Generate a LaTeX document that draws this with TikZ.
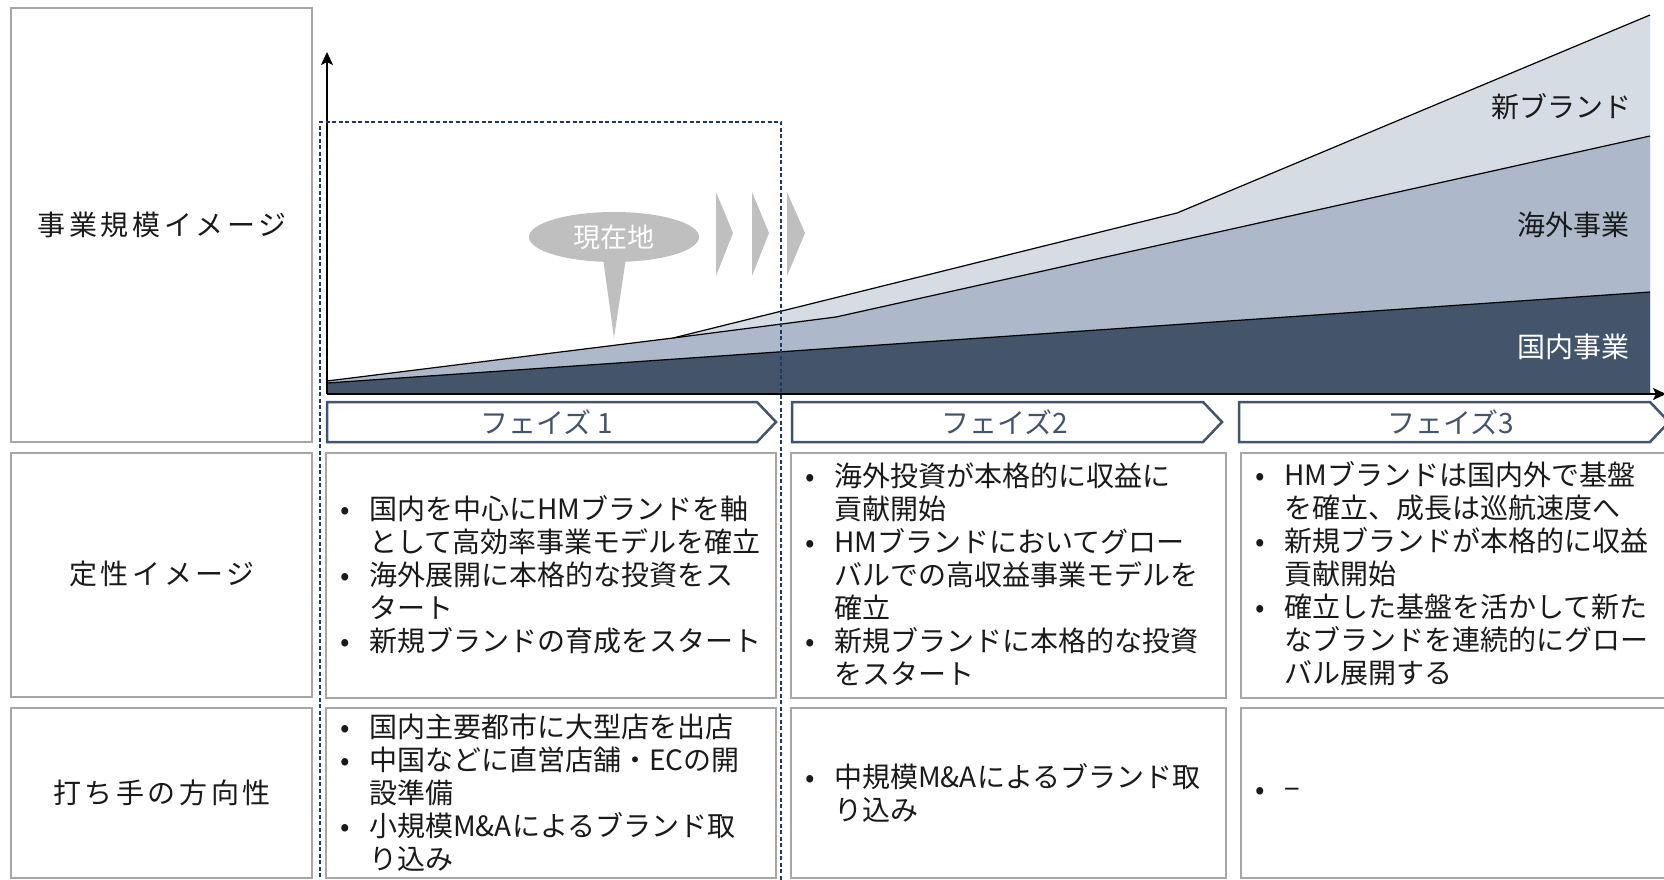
\documentclass[tikz,border=0pt]{standalone}
\usepackage{fontspec}
\setmainfont{Noto Sans CJK JP}
\usetikzlibrary{arrows.meta,shapes.geometric}
\definecolor{navy}{HTML}{44546A}
\definecolor{midblue}{HTML}{ADB9CA}
\definecolor{lightblue}{HTML}{D6DCE4}
\definecolor{boxgray}{HTML}{A6A6A6}
\definecolor{pingray}{HTML}{BFBFBF}
\definecolor{dashnavy}{HTML}{203864}
\definecolor{txt}{HTML}{1A1A1A}
\newcommand\bu{\makebox[48pt][c]{•}}
\newcommand\ii{\hspace*{48pt}}
\begin{document}
\begin{tikzpicture}[x=1pt,y=-1pt,
  cellbox/.style={draw=boxgray,line width=2pt},
  phasearrow/.style={draw=navy,line width=2.5pt,fill=white,line join=miter},
  body/.style={font=\fontsize{28}{33}\selectfont,text=txt,align=left,anchor=west,inner sep=0pt},
  rowlabel/.style={font=\fontsize{28}{33}\selectfont\addfontfeature{LetterSpace=13},text=txt,inner sep=0pt},
  phaselabel/.style={font=\fontsize{28}{33}\selectfont,text=navy,inner sep=0pt},
  serieslabel/.style={font=\fontsize{28}{33}\selectfont,inner sep=0pt,anchor=east},
  chartline/.style={draw=black,line width=1.2pt},
  axis/.style={draw=black,line width=1.8pt,-{Stealth[length=13pt,width=12pt,inset=3pt]}},
  chev/.style={fill=pingray,draw=none}
]
\useasboundingbox (0,0) rectangle (1664,880);
\clip (0,0) rectangle (1664,880);
\fill[white] (0,0) rectangle (1664,880);

% left column
\draw[cellbox] (11,8) rectangle (312,442);
\draw[cellbox] (11,453) rectangle (312,697);
\draw[cellbox] (11,708) rectangle (312,878);
\node[rowlabel] (l1) at (162,225) {事業規模イメージ};
\node[rowlabel] (l2) at (162,574) {定性イメージ};
\node[rowlabel] (l3) at (162,793) {打ち手の方向性};

% chart fills
\fill[lightblue] (327,394) -- (327,381) -- (673,338) -- (1177,213) -- (1650,15) -- (1650,394) -- cycle;
\fill[midblue] (327,394) -- (327,381) -- (673,338) -- (836,317) -- (1650,136) -- (1650,394) -- cycle;
\fill[navy] (327,394) -- (327,383) -- (1650,292) -- (1650,394) -- cycle;
\draw[chartline] (327,381) -- (673,338) -- (1177,213) -- (1650,15);
\draw[chartline] (673,338) -- (836,317) -- (1650,136);
\draw[chartline] (327,383) -- (1650,292);

\node[serieslabel,text=txt] (s1) at (1632,107) {新ブランド};
\node[serieslabel,text=txt] (s2) at (1630,225) {海外事業};
\node[serieslabel,text=white] (s3) at (1630,347) {国内事業};

% axes
\coordinate (origin) at (327,394);
\coordinate (ytip) at (327,52);
\coordinate (xtip) at (1666,394);
\draw[axis] (origin) -- (ytip);
\draw[axis] (origin) -- (xtip);

% current position marker
\fill[pingray] (603,258) -- (626,258) -- (614,338) -- cycle;
\node[ellipse,fill=pingray,minimum width=170pt,minimum height=50pt,inner sep=0pt,
  font=\fontsize{27}{30}\selectfont,text=white] (now) at (614,237) {現在地};
\fill[chev] (716,192) -- (733,233) -- (716,276) -- cycle;
\fill[chev] (752,192) -- (769,233) -- (752,276) -- cycle;
\fill[chev] (787,192) -- (805,233) -- (787,276) -- cycle;

% phase arrows
\draw[phasearrow] (327,402) -- (757,402) -- (776,422) -- (757,442) -- (327,442) -- cycle;
\draw[phasearrow] (792,402) -- (1203,402) -- (1222,422) -- (1203,442) -- (792,442) -- cycle;
\draw[phasearrow] (1239,402) -- (1650,402) -- (1669,422) -- (1650,442) -- (1239,442) -- cycle;
\node[phaselabel] (p1) at (547,422) {フェイズ 1};
\node[phaselabel] (p2) at (1005,422) {フェイズ2};
\node[phaselabel] (p3) at (1451,422) {フェイズ3};

% content cells
\draw[cellbox] (326,453) rectangle (776,698);
\draw[cellbox] (791,453) rectangle (1226,698);
\draw[cellbox] (1241,453) rectangle (1680,698);
\draw[cellbox] (326,708) rectangle (776,878);
\draw[cellbox] (791,708) rectangle (1226,878);
\draw[cellbox] (1241,708) rectangle (1680,878);

\node[body] (c11) at (321,575) {\bu 国内を中心にHMブランドを軸\\\ii として高効率事業モデルを確立\\\bu 海外展開に本格的な投資をス\\\ii タート\\\bu 新規ブランドの育成をスタート};
\node[body] (c12) at (786,574) {\bu 海外投資が本格的に収益に\\\ii 貢献開始\\\bu HMブランドにおいてグロー\\\ii バルでの高収益事業モデルを\\\ii 確立\\\bu 新規ブランドに本格的な投資\\\ii をスタート};
\node[body] (c13) at (1236,574) {\bu HMブランドは国内外で基盤\\\ii を確立、成長は巡航速度へ\\\bu 新規ブランドが本格的に収益\\\ii 貢献開始\\\bu 確立した基盤を活かして新た\\\ii なブランドを連続的にグロー\\\ii バル展開する};
\node[body] (c21) at (321,793) {\bu 国内主要都市に大型店を出店\\\bu 中国などに直営店舗・ECの開\\\ii 設準備\\\bu 小規模M\&Aによるブランド取\\\ii り込み};
\node[body] (c22) at (786,793) {\bu 中規模M\&Aによるブランド取\\\ii り込み};
\node[body] (c23) at (1236,793) {\bu −};

% dashed current phase frame
\draw[dashnavy,line width=1.6pt,dash pattern=on 4pt off 2.5pt] (320,890) -- (320,122) -- (781,122) -- (781,890);
\end{tikzpicture}
\end{document}
